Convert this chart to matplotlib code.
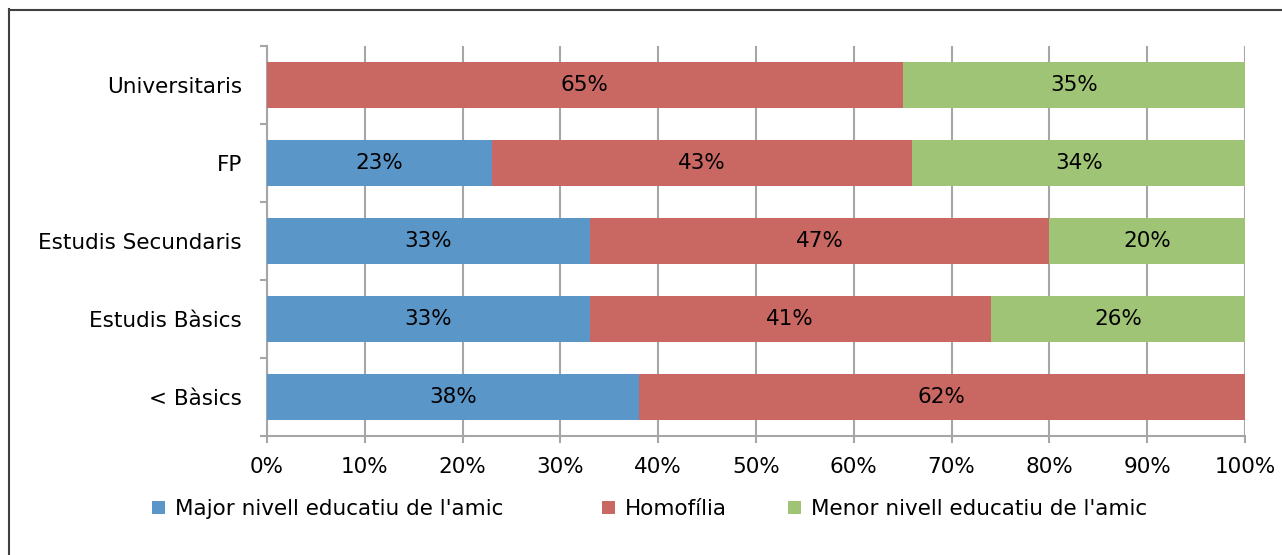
import matplotlib
matplotlib.use("Agg")
import matplotlib.pyplot as plt
import numpy as np
from matplotlib.patches import Patch
from matplotlib.lines import Line2D

categories = ["< Bàsics", "Estudis Bàsics", "Estudis Secundaris", "FP", "Universitaris"]
major = [38, 33, 33, 23, 0]
homofilia = [62, 41, 47, 43, 65]
menor = [0, 26, 20, 34, 35]
series_names = ["Major nivell educatiu de l'amic", "Homofília", "Menor nivell educatiu de l'amic"]
colors = ["#5B96C9", "#C96862", "#A0C476"]
xticks = list(range(0, 101, 10))

W, H = 1282, 555
FS = 15.5
fig = plt.figure(figsize=(W / 100, H / 100), dpi=100)
fig.patch.set_facecolor("white")

# outer frame (top and left edges visible)
fig.add_artist(Line2D([9 / W, 9 / W], [0, 1 - 9 / H], color="#404040", lw=1.5))
fig.add_artist(Line2D([9 / W, 1], [1 - 9.5 / H, 1 - 9.5 / H], color="#404040", lw=1.5))

ax = fig.add_axes([267 / W, (H - 436) / H, (1245 - 267) / W, (436 - 46) / H])

grid_c = "#A6A6A6"
y = np.arange(len(categories))
left = np.zeros(len(categories))
for vals, c in zip([major, homofilia, menor], colors):
    vals = np.array(vals, dtype=float)
    ax.barh(y, vals, left=left, height=0.6, color=c, zorder=3)
    for yi, l, v in zip(y, left, vals):
        if v > 0:
            ax.text(l + v / 2, yi, f"{int(v)}%", ha="center", va="center",
                    fontsize=FS, color="black", zorder=4)
    left += vals

ax.set_xlim(0, 100)
ax.set_ylim(-0.5, len(categories) - 0.5)
ax.set_xticks(xticks)
ax.set_xticklabels([f"{t}%" for t in xticks], fontsize=FS)
ax.set_yticks(y)
ax.set_yticklabels(categories, fontsize=FS)
ax.set_yticks(np.arange(-0.5, len(categories)), minor=True)
ax.tick_params(axis="y", which="major", length=0, pad=18)
ax.tick_params(axis="y", which="minor", length=5, width=1.5, color=grid_c, direction="out")
ax.tick_params(axis="x", length=5, width=1.5, color=grid_c, direction="out", pad=10)
ax.xaxis.grid(True, color=grid_c, lw=1.5, zorder=0)
for s in ["top", "right"]:
    ax.spines[s].set_visible(False)
for s in ["left", "bottom"]:
    ax.spines[s].set_color(grid_c)
    ax.spines[s].set_linewidth(1.5)

# legend entries placed individually along the bottom
legend_x = [152, 602, 788]
for name, c, lx in zip(series_names, colors, legend_x):
    lg = fig.legend([Patch(facecolor=c, edgecolor="none")], [name], loc="center left",
                    bbox_to_anchor=(lx / W, 1 - 509 / H), frameon=False, fontsize=FS,
                    handlelength=0.6, handleheight=0.6, handletextpad=0.45,
                    borderpad=0, borderaxespad=0)

fig.savefig("out.png", dpi=100, facecolor="white")
